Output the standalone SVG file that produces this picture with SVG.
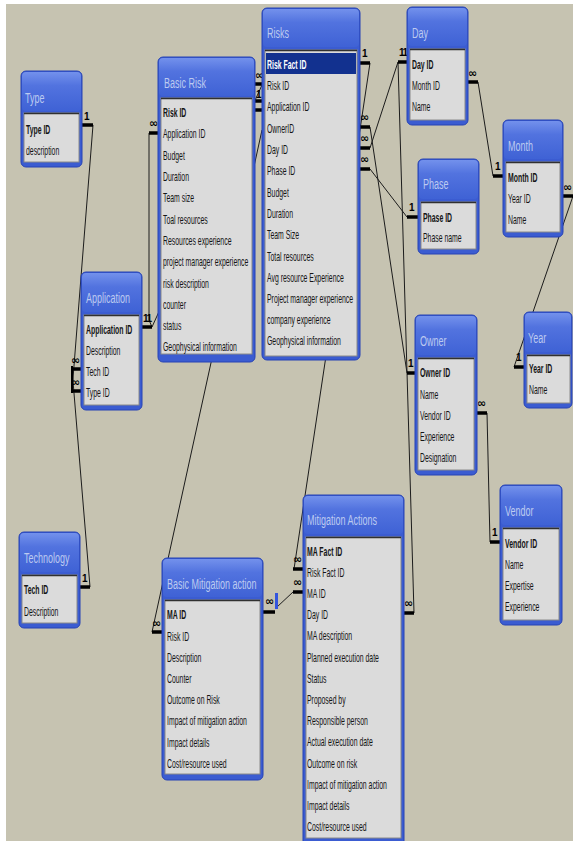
<svg xmlns="http://www.w3.org/2000/svg" width="573" height="841" viewBox="0 0 573 841">
<defs>
<linearGradient id="tg" x1="0" y1="0" x2="0" y2="1">
<stop offset="0" stop-color="#7391EC"/>
<stop offset="0.35" stop-color="#5273DF"/>
<stop offset="1" stop-color="#3F62D5"/>
</linearGradient>
</defs>
<style>
.frame{fill:#3B5CD1;stroke:#2743B5;stroke-width:1}
.tbar{fill:url(#tg)}
.panel{fill:#DBDBDB;stroke:#8A8A8A;stroke-width:1}
.ptop{stroke:#303030;stroke-width:1.5}
.ttl{font-family:"Liberation Sans",Arial,sans-serif;font-size:15px;fill:#BCCAF0}
.f{font-family:"Liberation Sans",Arial,sans-serif;font-size:13px;fill:#151515}
.k{font-weight:bold}
.hl{fill:#12318F}
.hlt{fill:#FFFFFF}
.ln{stroke:#1C1C1C;stroke-width:1;fill:none}
.bar{stroke:#000;stroke-width:3.5}
.one{font-family:"Liberation Sans",Arial,sans-serif;font-size:10px;font-weight:bold;fill:#000}
.inf{font-family:"DejaVu Sans",sans-serif;font-size:11px;font-weight:bold;fill:#000}
</style>
<rect x="0" y="0" width="573" height="841" fill="#FFFFFF"/>
<rect x="6" y="4" width="567" height="837" fill="#C6C3B1"/>

<g id="connectors">
<polyline class="ln" points="93,125 72,391"/>
<polyline class="ln" points="90,587 72,369"/>
<polyline class="ln" points="149,133 149,320 152,327"/>
<polyline class="ln" points="152,327 262,85"/>
<polyline class="ln" points="152,632 262,130"/>
<polyline class="ln" points="370,63 294,569"/>
<polyline class="ln" points="370,127 407,373"/>
<polyline class="ln" points="370,148 398,62"/>
<polyline class="ln" points="370,169 407,217"/>
<polyline class="ln" points="398,62 414,613"/>
<polyline class="ln" points="478,82 493,176"/>
<polyline class="ln" points="573,196 514,367"/>
<polyline class="ln" points="487,413 490,542"/>
<polyline class="ln" points="277,607 293,592"/>
<line class="bar" x1="82" y1="125" x2="93" y2="125"/><text class="one" x="84" y="120">1</text>
<line class="bar" x1="72" y1="369" x2="81" y2="369"/><text class="inf" x="71" y="364">∞</text>
<line class="bar" x1="72" y1="391" x2="81" y2="391"/><text class="inf" x="71" y="386">∞</text>
<line x1="72" y1="366" x2="72" y2="393" stroke="#000" stroke-width="2"/>
<line class="bar" x1="80" y1="587" x2="90" y2="587"/><text class="one" x="82" y="582">1</text>
<line class="bar" x1="149" y1="133" x2="160" y2="133"/><text class="inf" x="149" y="127">∞</text>
<line class="bar" x1="142" y1="327" x2="152" y2="327"/><text class="one" x="143" y="322" letter-spacing="-1.5">11</text>
<line class="bar" x1="255" y1="84" x2="263" y2="84"/><text class="inf" x="255" y="79">∞</text>
<text class="one" x="256" y="98">1</text>
<line class="bar" x1="255" y1="101" x2="263" y2="101"/>
<line class="bar" x1="255" y1="110" x2="263" y2="110"/>
<line class="bar" x1="359" y1="63" x2="370" y2="63"/><text class="one" x="362" y="57">1</text>
<line class="bar" x1="359" y1="127" x2="370" y2="127"/><text class="inf" x="360" y="121">∞</text>
<line class="bar" x1="359" y1="148" x2="370" y2="148"/><text class="inf" x="360" y="142">∞</text>
<line class="bar" x1="359" y1="169" x2="370" y2="169"/><text class="inf" x="360" y="163">∞</text>
<line class="bar" x1="398" y1="62" x2="408" y2="62"/><text class="one" x="399" y="56" letter-spacing="-1.5">11</text>
<line class="bar" x1="468" y1="82" x2="478" y2="82"/><text class="inf" x="468" y="77">∞</text>
<line class="bar" x1="493" y1="176" x2="503" y2="176"/><text class="one" x="495" y="170">1</text>
<line class="bar" x1="563" y1="196" x2="573" y2="196"/><text class="inf" x="563" y="191">∞</text>
<line class="bar" x1="407" y1="217" x2="418" y2="217"/><text class="one" x="409" y="211">1</text>
<line class="bar" x1="407" y1="373" x2="415" y2="373"/><text class="one" x="408" y="367">1</text>
<line class="bar" x1="477" y1="413" x2="487" y2="413"/><text class="inf" x="477" y="407">∞</text>
<line class="bar" x1="514" y1="367" x2="524" y2="367"/><text class="one" x="516" y="361">1</text>
<line class="bar" x1="490" y1="542" x2="500" y2="542"/><text class="one" x="492" y="536">1</text>
<line class="bar" x1="152" y1="632" x2="162" y2="632"/><text class="inf" x="152" y="627">∞</text>
<line class="bar" x1="263" y1="612" x2="275" y2="612"/><text class="inf" x="265" y="605">∞</text>
<rect x="275" y="593" width="3" height="16" fill="#3355DD"/>
<line class="bar" x1="293" y1="569" x2="303" y2="569"/><text class="inf" x="293" y="563">∞</text>
<line class="bar" x1="293" y1="592" x2="303" y2="592"/><text class="inf" x="293" y="586">∞</text>
<line class="bar" x1="404" y1="613" x2="414" y2="613"/><text class="inf" x="404" y="607">∞</text>
</g>

<g id="type">
<rect class="frame" x="21" y="71" width="61" height="96" rx="5"/>
<rect class="tbar" x="22" y="72" width="59" height="39" rx="4"/>
<text class="ttl" transform="translate(25,103) scale(0.6,1)">Type</text>
<rect class="panel" x="24" y="113" width="55" height="49"/>
<line class="ptop" x1="24" y1="113.5" x2="79" y2="113.5"/>
<g class="f" transform="translate(26,0) scale(0.53,1)">
<text class="k" x="0" y="134">Type ID</text>
<text x="0" y="155">description</text>
</g>
</g>

<g id="basic-risk">
<rect class="frame" x="158" y="57" width="97" height="305" rx="5"/>
<rect class="tbar" x="159" y="58" width="95" height="38" rx="4"/>
<text class="ttl" transform="translate(164,88) scale(0.6,1)">Basic Risk</text>
<rect class="panel" x="161" y="98" width="91" height="256"/>
<line class="ptop" x1="161" y1="98.5" x2="252" y2="98.5"/>
<g class="f" transform="translate(163,0) scale(0.53,1)">
<text class="k" x="0" y="117">Risk ID</text>
<text x="0" y="138">Application ID</text>
<text x="0" y="160">Budget</text>
<text x="0" y="181">Duration</text>
<text x="0" y="202">Team size</text>
<text x="0" y="224">Toal resources</text>
<text x="0" y="245">Resources experience</text>
<text x="0" y="266">project manager experience</text>
<text x="0" y="288">risk description</text>
<text x="0" y="309">counter</text>
<text x="0" y="330">status</text>
<text x="0" y="351">Geophysical information</text>
</g>
</g>

<g id="risks">
<rect class="frame" x="262" y="8" width="98" height="352" rx="5"/>
<rect class="tbar" x="263" y="9" width="96" height="38" rx="4"/>
<text class="ttl" transform="translate(267,38) scale(0.6,1)">Risks</text>
<rect class="panel" x="265" y="50" width="92" height="306"/>
<line class="ptop" x1="265" y1="50.5" x2="357" y2="50.5"/>
<rect class="hl" x="266" y="53" width="90" height="21"/>
<g class="f" transform="translate(267,0) scale(0.53,1)">
<text class="k hlt" x="0" y="69">Risk Fact ID</text>
<text x="0" y="90">Risk ID</text>
<text x="0" y="111">Application ID</text>
<text x="0" y="133">OwnerID</text>
<text x="0" y="154">Day ID</text>
<text x="0" y="175">Phase ID</text>
<text x="0" y="197">Budget</text>
<text x="0" y="218">Duration</text>
<text x="0" y="239">Team Size</text>
<text x="0" y="261">Total resources</text>
<text x="0" y="282">Avg resource Experience</text>
<text x="0" y="303">Project manager experience</text>
<text x="0" y="324">company experience</text>
<text x="0" y="345">Geophysical information</text>
</g>
</g>

<g id="day">
<rect class="frame" x="407" y="7" width="61" height="118" rx="5"/>
<rect class="tbar" x="408" y="8" width="59" height="38" rx="4"/>
<text class="ttl" transform="translate(412,38) scale(0.6,1)">Day</text>
<rect class="panel" x="410" y="49" width="55" height="71"/>
<line class="ptop" x1="410" y1="49.5" x2="465" y2="49.5"/>
<g class="f" transform="translate(412,0) scale(0.53,1)">
<text class="k" x="0" y="69">Day ID</text>
<text x="0" y="90">Month ID</text>
<text x="0" y="111">Name</text>
</g>
</g>

<g id="month">
<rect class="frame" x="503" y="120" width="60" height="117" rx="5"/>
<rect class="tbar" x="504" y="121" width="58" height="38" rx="4"/>
<text class="ttl" transform="translate(508,151) scale(0.6,1)">Month</text>
<rect class="panel" x="506" y="162" width="54" height="70"/>
<line class="ptop" x1="506" y1="162.5" x2="560" y2="162.5"/>
<g class="f" transform="translate(508,0) scale(0.53,1)">
<text class="k" x="0" y="182">Month ID</text>
<text x="0" y="203">Year ID</text>
<text x="0" y="224">Name</text>
</g>
</g>

<g id="phase">
<rect class="frame" x="418" y="159" width="61" height="95" rx="5"/>
<rect class="tbar" x="419" y="160" width="59" height="39" rx="4"/>
<text class="ttl" transform="translate(423,189) scale(0.6,1)">Phase</text>
<rect class="panel" x="421" y="202" width="55" height="47"/>
<line class="ptop" x1="421" y1="202.5" x2="476" y2="202.5"/>
<g class="f" transform="translate(423,0) scale(0.53,1)">
<text class="k" x="0" y="222">Phase ID</text>
<text x="0" y="242">Phase name</text>
</g>
</g>

<g id="owner">
<rect class="frame" x="415" y="315" width="62" height="160" rx="5"/>
<rect class="tbar" x="416" y="316" width="60" height="39" rx="4"/>
<text class="ttl" transform="translate(420,346) scale(0.6,1)">Owner</text>
<rect class="panel" x="418" y="358" width="56" height="112"/>
<line class="ptop" x1="418" y1="358.5" x2="474" y2="358.5"/>
<g class="f" transform="translate(420,0) scale(0.53,1)">
<text class="k" x="0" y="377">Owner ID</text>
<text x="0" y="399">Name</text>
<text x="0" y="420">Vendor ID</text>
<text x="0" y="441">Experience</text>
<text x="0" y="462">Designation</text>
</g>
</g>

<g id="year">
<rect class="frame" x="524" y="312" width="48" height="96" rx="5"/>
<rect class="tbar" x="525" y="313" width="46" height="39" rx="4"/>
<text class="ttl" transform="translate(528,343) scale(0.6,1)">Year</text>
<rect class="panel" x="527" y="355" width="43" height="48"/>
<line class="ptop" x1="527" y1="355.5" x2="570" y2="355.5"/>
<g class="f" transform="translate(529,0) scale(0.53,1)">
<text class="k" x="0" y="373">Year ID</text>
<text x="0" y="394">Name</text>
</g>
</g>

<g id="vendor">
<rect class="frame" x="500" y="485" width="62" height="140" rx="5"/>
<rect class="tbar" x="501" y="486" width="60" height="39" rx="4"/>
<text class="ttl" transform="translate(505,516) scale(0.6,1)">Vendor</text>
<rect class="panel" x="503" y="528" width="56" height="92"/>
<line class="ptop" x1="503" y1="528.5" x2="559" y2="528.5"/>
<g class="f" transform="translate(505,0) scale(0.53,1)">
<text class="k" x="0" y="548">Vendor ID</text>
<text x="0" y="569">Name</text>
<text x="0" y="590">Expertise</text>
<text x="0" y="611">Experience</text>
</g>
</g>

<g id="application">
<rect class="frame" x="81" y="272" width="61" height="138" rx="5"/>
<rect class="tbar" x="82" y="273" width="59" height="39" rx="4"/>
<text class="ttl" transform="translate(86,303) scale(0.6,1)">Application</text>
<rect class="panel" x="84" y="315" width="55" height="90"/>
<line class="ptop" x1="84" y1="315.5" x2="139" y2="315.5"/>
<g class="f" transform="translate(86,0) scale(0.53,1)">
<text class="k" x="0" y="334">Application ID</text>
<text x="0" y="355">Description</text>
<text x="0" y="376">Tech ID</text>
<text x="0" y="397">Type ID</text>
</g>
</g>

<g id="technology">
<rect class="frame" x="19" y="532" width="61" height="96" rx="5"/>
<rect class="tbar" x="20" y="533" width="59" height="39" rx="4"/>
<text class="ttl" transform="translate(24,563) scale(0.6,1)">Technology</text>
<rect class="panel" x="22" y="575" width="55" height="48"/>
<line class="ptop" x1="22" y1="575.5" x2="77" y2="575.5"/>
<g class="f" transform="translate(24,0) scale(0.53,1)">
<text class="k" x="0" y="594">Tech ID</text>
<text x="0" y="616">Description</text>
</g>
</g>

<g id="basic-mitigation-action">
<rect class="frame" x="162" y="558" width="101" height="222" rx="5"/>
<rect class="tbar" x="163" y="559" width="99" height="38" rx="4"/>
<text class="ttl" transform="translate(167,589) scale(0.6,1)">Basic Mitigation action</text>
<rect class="panel" x="165" y="600" width="95" height="174"/>
<line class="ptop" x1="165" y1="600.5" x2="260" y2="600.5"/>
<g class="f" transform="translate(167,0) scale(0.53,1)">
<text class="k" x="0" y="619">MA ID</text>
<text x="0" y="641">Risk ID</text>
<text x="0" y="662">Description</text>
<text x="0" y="683">Counter</text>
<text x="0" y="704">Outcome on Risk</text>
<text x="0" y="725">Impact of mitigation action</text>
<text x="0" y="747">Impact details</text>
<text x="0" y="768">Cost/resource used</text>
</g>
</g>

<g id="mitigation-actions">
<rect class="frame" x="303" y="495" width="101" height="352" rx="5"/>
<rect class="tbar" x="304" y="496" width="99" height="38" rx="4"/>
<text class="ttl" transform="translate(307,525) scale(0.6,1)">Mitigation Actions</text>
<rect class="panel" x="306" y="537" width="95" height="301"/>
<line class="ptop" x1="306" y1="537.5" x2="401" y2="537.5"/>
<g class="f" transform="translate(307,0) scale(0.53,1)">
<text class="k" x="0" y="556">MA Fact ID</text>
<text x="0" y="577">Risk Fact ID</text>
<text x="0" y="598">MA ID</text>
<text x="0" y="619">Day ID</text>
<text x="0" y="640">MA description</text>
<text x="0" y="662">Planned execution date</text>
<text x="0" y="683">Status</text>
<text x="0" y="704">Proposed by</text>
<text x="0" y="725">Responsible person</text>
<text x="0" y="746">Actual execution date</text>
<text x="0" y="768">Outcome on risk</text>
<text x="0" y="789">Impact of mitigation action</text>
<text x="0" y="810">Impact details</text>
<text x="0" y="831">Cost/resource used</text>
</g>
</g>
</svg>
